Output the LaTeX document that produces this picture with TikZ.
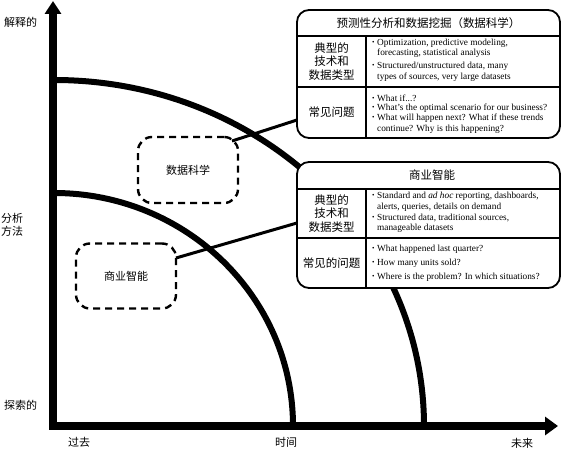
\documentclass[tikz,border=0pt]{standalone}
\usepackage{fontspec}
\setmainfont{Liberation Serif}
\newfontfamily\cjk{Noto Sans CJK SC}
\usetikzlibrary{arrows.meta}
\newcommand{\bulmark}{\makebox[5pt][l]{\raisebox{1pt}{\scriptsize\textbullet}}}
\newcommand{\bulind}{\hspace*{5pt}}
\begin{document}
\begin{tikzpicture}[x=1pt,y=1pt,
 axisline/.style={line width=8pt, line join=miter, {Triangle[width=16pt,length=13pt]}-{Triangle[width=18pt,length=13pt]}},
 arcline/.style={line width=6pt},
 dashbox/.style={draw, line width=2.4pt, dash pattern=on 7pt off 5pt, rounded corners=14pt, minimum width=100pt, minimum height=66pt, outer sep=0pt, font=\cjk\fontsize{11}{13}\selectfont},
 bigbox/.style={draw, line width=1.8pt, rounded corners=12pt, fill=white, minimum width=263pt, inner sep=0pt, outer sep=0pt},
 sepline/.style={line width=1.4pt},
 zh/.style={font=\cjk\fontsize{11.5}{13.5}\selectfont, align=center, inner sep=0pt},
 bul/.style={font=\fontsize{9.3}{10.5}\selectfont, align=left, anchor=west, inner sep=0pt},
 conn/.style={line width=3pt},
 axlab/.style={font=\cjk\fontsize{11}{13.5}\selectfont, inner sep=0pt, align=left},
]
\useasboundingbox (0,0) rectangle (566,450);
% axes
\draw[axisline] (53,449) -- (53,24) -- (558,24);
% arcs
\draw[arcline] (54,370) arc[start angle=90, end angle=0, x radius=370, y radius=346];
\draw[arcline] (54,257) arc[start angle=90, end angle=0, x radius=239, y radius=233];
% axis labels
\node[axlab, anchor=west] (lexp) at (4,428) {解释的};
\node[axlab, anchor=west] (lmeth) at (1,225) {分析\\方法};
\node[axlab, anchor=west] (lexpl) at (4,45) {探索的};
\node[axlab] (lpast) at (79,8) {过去};
\node[axlab] (ltime) at (286,8) {时间};
\node[axlab] (lfut) at (522,7) {未来};
% dashed boxes
\node[dashbox] (ds) at (188,280) {数据科学};
\node[dashbox, minimum height=65pt] (bi) at (126,174) {商业智能};
% big box 1
\node[bigbox, minimum height=128pt] (dsbox) at (428.5,376) {};
\draw[sepline] ([yshift=-26pt]dsbox.north west) -- ([yshift=-26pt]dsbox.north east);
\draw[sepline] ([yshift=-77pt]dsbox.north west) -- ([yshift=-77pt]dsbox.north east);
\draw[sepline] ([xshift=69pt,yshift=-26pt]dsbox.north west) -- ([xshift=69pt]dsbox.south west);
\node[zh] (dst) at (428.5,427) {预测性分析和数据挖掘（数据科学）};
\node[zh] (dsr1) at (331.5,388.5) {典型的\\技术和\\数据类型};
\node[zh] (dsr2) at (331.5,337.5) {常见问题};
\node[bul] (dsb1) at (372,401.5) {\bulmark Optimization, predictive modeling,\\\bulind forecasting, statistical analysis};
\node[bul] (dsb2) at (372,378) {\bulmark Structured/unstructured data, many\\\bulind types of sources, very large datasets};
\node[bul] (dsq1) at (372,352) {\bulmark What if...?};
\node[bul] (dsq2) at (372,342) {\bulmark What's the optimal scenario for our business?};
\node[bul] (dsq3) at (372,326.5) {\bulmark What will happen next? What if these trends\\\bulind continue? Why is this happening?};
% big box 2
\node[bigbox, minimum height=126pt] (bibox) at (428.5,225) {};
\draw[sepline] ([yshift=-27pt]bibox.north west) -- ([yshift=-27pt]bibox.north east);
\draw[sepline] ([yshift=-76pt]bibox.north west) -- ([yshift=-76pt]bibox.north east);
\draw[sepline] ([xshift=69pt,yshift=-27pt]bibox.north west) -- ([xshift=69pt]bibox.south west);
\node[zh] (bit) at (432,275) {商业智能};
\node[zh] (bir1) at (331.5,236.5) {典型的\\技术和\\数据类型};
\node[zh] (bir2) at (331.5,187) {常见的问题};
\node[bul] (bib1) at (372,248) {\bulmark Standard and \textit{ad hoc} reporting, dashboards,\\\bulind alerts, queries, details on demand};
\node[bul] (bib2) at (372,226.5) {\bulmark Structured data, traditional sources,\\\bulind manageable datasets};
\node[bul] (biq1) at (372,201) {\bulmark What happened last quarter?};
\node[bul] (biq2) at (372,187) {\bulmark How many units sold?};
\node[bul] (biq3) at (372,173) {\bulmark Where is the problem? In which situations?};
% connectors
\draw[conn] ([xshift=-6pt,yshift=-4pt]ds.north east) -- ([yshift=-46pt]dsbox.west);
\draw[conn] ([yshift=18pt]bi.east) -- ([yshift=2pt]bibox.west);
\end{tikzpicture}
\end{document}
